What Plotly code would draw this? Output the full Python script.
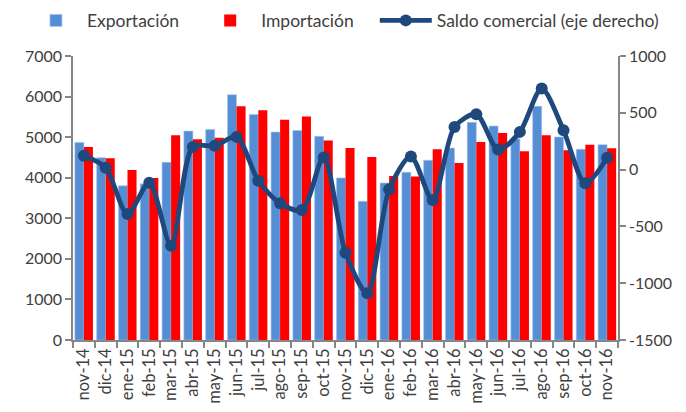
import plotly.graph_objects as go

months = ["nov-14", "dic-14", "ene-15", "feb-15", "mar-15", "abr-15", "may-15", "jun-15",
          "jul-15", "ago-15", "sep-15", "oct-15", "nov-15", "dic-15", "ene-16", "feb-16",
          "mar-16", "abr-16", "may-16", "jun-16", "jul-16", "ago-16", "sep-16", "oct-16", "nov-16"]
exportacion = [4870, 4495, 3800, 3850, 4380, 5150, 5190, 6045,
               5560, 5125, 5165, 5020, 3995, 3420, 3870, 4135,
               4430, 4730, 5365, 5275, 4960, 5760, 5005, 4700, 4815]
importacion = [4755, 4480, 4190, 3995, 5045, 4945, 4985, 5760,
               5660, 5430, 5510, 4920, 4730, 4510, 4045, 4030,
               4700, 4365, 4880, 5100, 4650, 5045, 4675, 4815, 4725]
saldo = [121, 16, -391, -116, -670, 200, 209, 288,
         -98, -297, -356, 107, -731, -1088, -174, 115,
         -268, 376, 488, 177, 332, 713, 347, -121, 104]

left_ticks = [0, 1000, 2000, 3000, 4000, 5000, 6000, 7000]
right_ticks = [-1500, -1000, -500, 0, 500, 1000]

font_family = "Lato, 'Open Sans', sans-serif"
text_color = "#404040"
axis_color = "#868686"

fig = go.Figure()
fig.add_trace(go.Bar(x=months, y=exportacion, name="Exportación", legend="legend",
                     marker=dict(color="#558ED5", line=dict(color="#A9C4EA", width=0.6))))
fig.add_trace(go.Bar(x=months, y=importacion, name="Importación", legend="legend2",
                     marker=dict(color="#FF0000", line=dict(width=0))))
fig.add_trace(go.Scatter(x=months, y=saldo, name="Saldo comercial (eje derecho)", yaxis="y2",
                         legend="legend3", mode="lines+markers",
                         line=dict(color="#1F497D", width=4.8, shape="spline", smoothing=0.8),
                         marker=dict(color="#1F497D", size=12)))

legend_common = dict(orientation="h", xref="container", yref="paper", y=1.125,
                     xanchor="left", yanchor="middle", font=dict(size=17.5, color=text_color),
                     itemwidth=52, bgcolor="rgba(0,0,0,0)")

# page body has an 8px margin; figure size/margins compensate so the plot area lands where the reference has it
fig.update_layout(
    width=678, height=404,
    margin=dict(l=65, r=68, t=48, b=72, autoexpand=False),
    paper_bgcolor="white", plot_bgcolor="white",
    font=dict(family=font_family, size=16, color=text_color),
    barmode="group", bargap=0.17, bargroupgap=0.0,
    showlegend=True,
    legend=dict(legend_common, x=0.025),
    legend2=dict(legend_common, x=0.282),
    legend3=dict(legend_common, x=0.541),
    xaxis=dict(range=[-0.5, len(months) - 0.5],
               showline=True, linecolor=axis_color, linewidth=1.5, ticks="outside", ticklen=6,
               tickcolor=axis_color, tickwidth=1.5, tickson="boundaries", tickangle=-90,
               showgrid=False, automargin=False, tickfont=dict(size=16.5, color=text_color)),
    yaxis=dict(range=[0, 7000], tickvals=left_ticks, ticktext=[str(v) for v in left_ticks],
               showline=True, linecolor=axis_color, linewidth=1.5, ticks="outside", ticklen=6,
               tickcolor=axis_color, tickwidth=1.5, showgrid=False, zeroline=False, automargin=False,
               tickfont=dict(size=16, color=text_color)),
    yaxis2=dict(range=[-1500, 1000], tickvals=right_ticks, ticktext=[str(v) for v in right_ticks],
                overlaying="y", side="right",
                showline=True, linecolor=axis_color, linewidth=1.5, ticks="outside", ticklen=6,
                tickcolor=axis_color, tickwidth=1.5, showgrid=False, zeroline=False, automargin=False,
                tickfont=dict(size=16, color=text_color)),
)

fig.write_html("out.html")
